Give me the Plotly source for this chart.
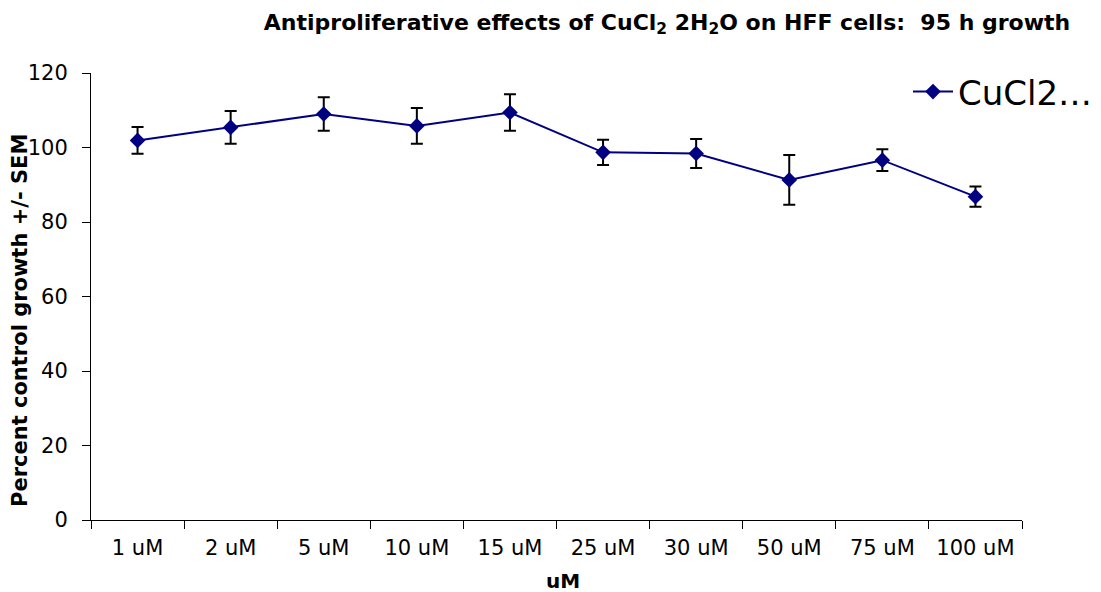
import plotly.graph_objects as go

categories = ["1 uM", "2 uM", "5 uM", "10 uM", "15 uM", "25 uM", "30 uM", "50 uM", "75 uM", "100 uM"]
growth = [101.9, 105.4, 109.0, 105.8, 109.4, 98.7, 98.4, 91.3, 96.6, 86.8]
sem = [3.6, 4.4, 4.5, 4.8, 4.9, 3.4, 3.9, 6.7, 2.9, 2.7]
y_ticks = [0, 20, 40, 60, 80, 100, 120]

W, H = 1101, 592
L, R, T, B = 91, W - 1022, 73, H - 520

fig = go.Figure()
fig.add_trace(go.Scatter(
    x=categories, y=growth, name="CuCl2…", mode="lines+markers",
    line=dict(color="#000080", width=2),
    marker=dict(symbol="diamond", size=12, color="#000080"),
    error_y=dict(type="data", array=sem, visible=True, color="black", thickness=2, width=6),
))

fig.update_layout(
    width=W, height=H,
    paper_bgcolor="white", plot_bgcolor="white",
    margin=dict(l=L, r=R, t=T, b=B, autoexpand=False),
    font=dict(family="DejaVu Sans", color="black"),
    title=dict(text="<b>Antiproliferative effects of CuCl<sub>2</sub> 2H<sub>2</sub>O on HFF cells:  95 h growth</b>",
               x=667 / W, xanchor="center", y=1 - 22 / H, yanchor="middle",
               xref="container", yref="container",
               font=dict(size=22, color="black")),
    showlegend=True,
    legend=dict(xref="container", yref="container", x=908 / W, y=1 - 92 / H,
                xanchor="left", yanchor="middle",
                bgcolor="rgba(0,0,0,0)", font=dict(size=34, color="black"), itemwidth=40),
    xaxis=dict(type="category", range=[-0.5, 9.5], tickson="boundaries", ticks="outside", ticklen=8,
               tickcolor="black", showline=True, linecolor="black", linewidth=1, showgrid=False,
               tickfont=dict(size=21), ticklabelstandoff=9, automargin=False, title=dict(text="")),
    yaxis=dict(range=[0, 120], tickvals=y_ticks, ticks="outside", ticklen=8, tickcolor="black",
               showline=True, linecolor="black", linewidth=1, showgrid=False, zeroline=False,
               tickfont=dict(size=21), ticklabelstandoff=10, automargin=False, title=dict(text="")),
    annotations=[
        dict(text="<b>Percent control growth +/- SEM</b>", textangle=-90, showarrow=False,
             xref="paper", yref="paper", x=(20 - L) / (1022 - L), y=(520 - 321) / (520 - 73),
             xanchor="center", yanchor="middle", font=dict(size=21)),
        dict(text="<b>uM</b>", showarrow=False, xref="paper", yref="paper",
             x=(563 - L) / (1022 - L), y=(520 - 581) / (520 - 73), xanchor="center", yanchor="middle",
             font=dict(size=20)),
    ],
)

fig.write_html("out.html", config={"displayModeBar": False},
               post_script="document.body.style.margin='0';document.body.style.overflow='hidden';")
